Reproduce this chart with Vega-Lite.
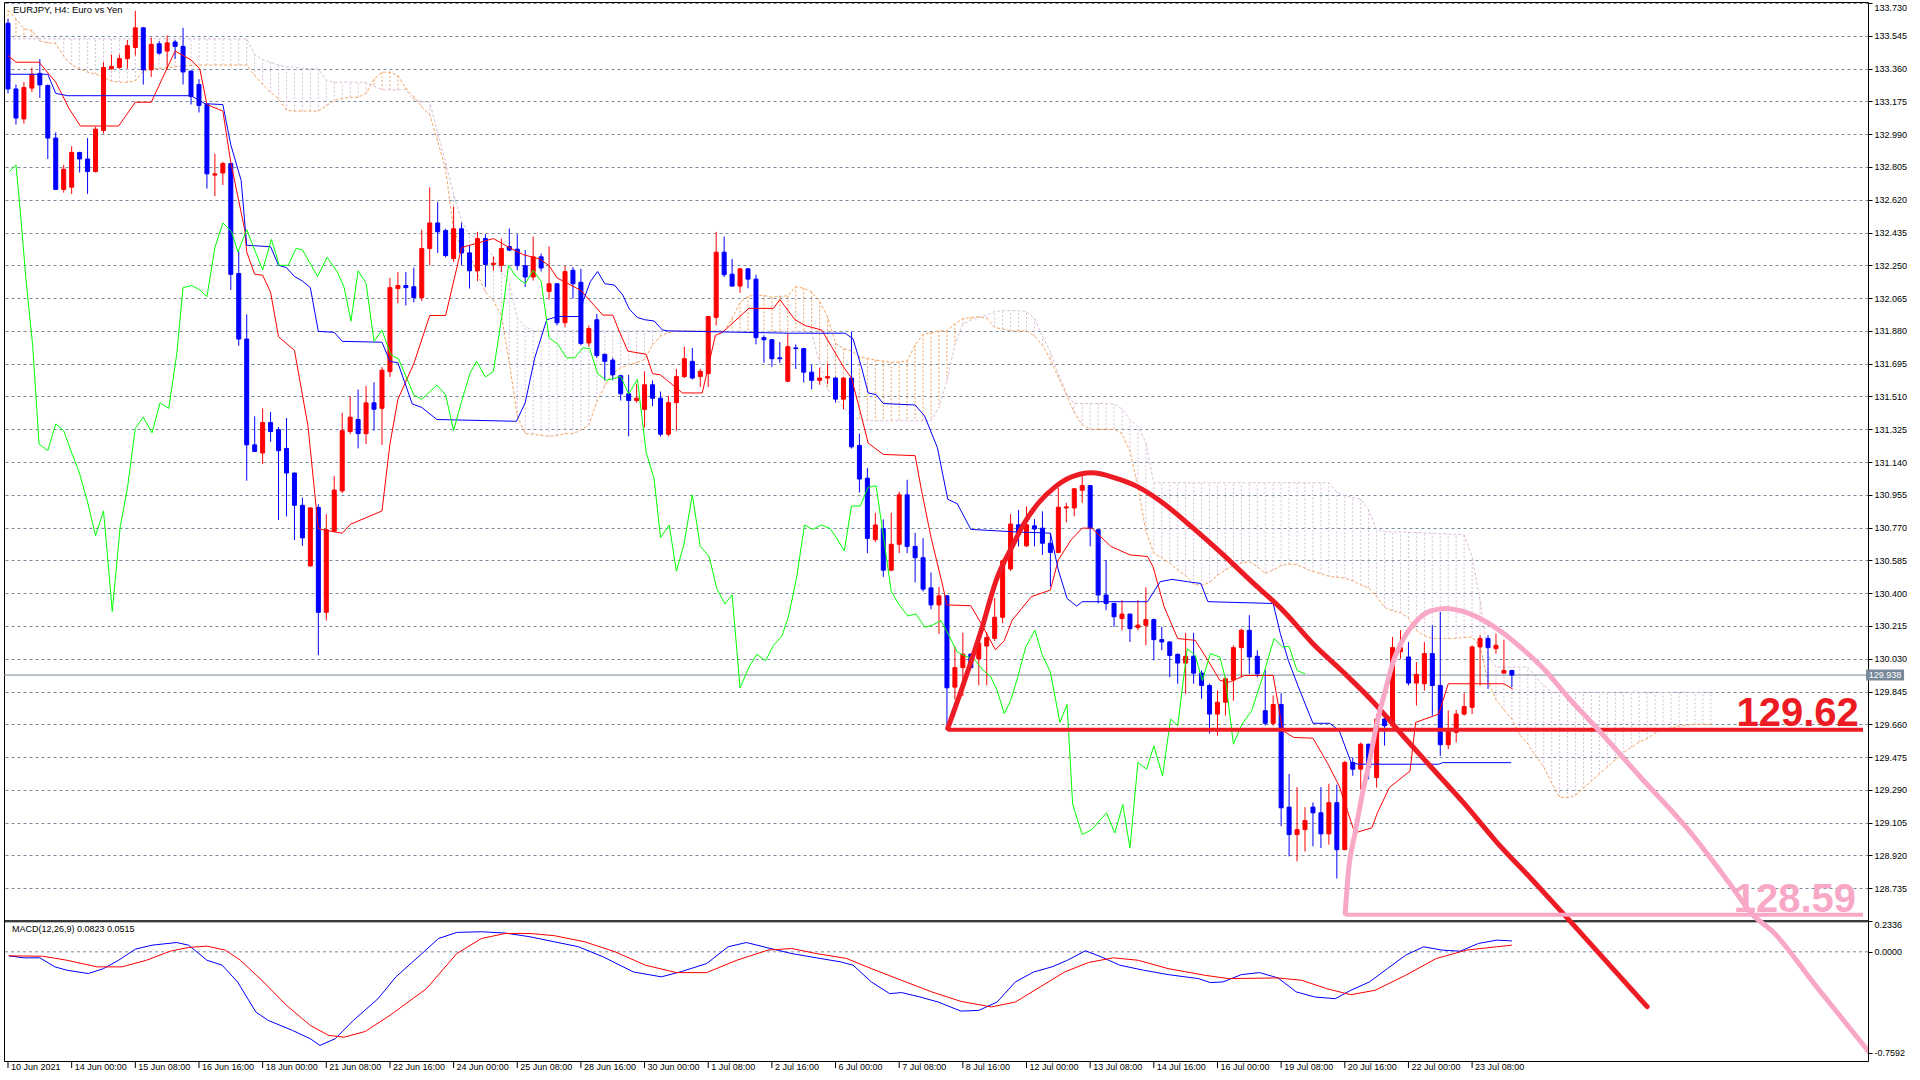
{
  "$schema": "https://vega.github.io/schema/vega-lite/v6.json",
  "width": 1864,
  "height": 1059,
  "padding": {"left": 3, "top": 2, "right": 0, "bottom": 0},
  "autosize": {"type": "pad"},
  "background": "#ffffff",
  "config": {
    "view": {"stroke": "#000000", "strokeWidth": 1},
    "axis": {"labelFont": "Liberation Sans", "labelColor": "#000000", "title": null},
    "text": {"font": "Liberation Sans"}
  },
  "datasets": {
    "candles": [
      {"i":0,"o":133.616,"h":133.64,"l":133.22,"c":133.245},
      {"i":1,"o":133.245,"h":133.27,"l":133.044,"c":133.081},
      {"i":2,"o":133.076,"h":133.283,"l":133.049,"c":133.253},
      {"i":3,"o":133.25,"h":133.366,"l":133.227,"c":133.328},
      {"i":4,"o":133.333,"h":133.414,"l":133.195,"c":133.268},
      {"i":5,"o":133.265,"h":133.27,"l":132.85,"c":132.968},
      {"i":6,"o":132.968,"h":133.0,"l":132.675,"c":132.678},
      {"i":7,"o":132.678,"h":132.817,"l":132.66,"c":132.792},
      {"i":8,"o":132.691,"h":132.922,"l":132.653,"c":132.887},
      {"i":9,"o":132.887,"h":132.89,"l":132.774,"c":132.85},
      {"i":10,"o":132.85,"h":132.968,"l":132.653,"c":132.779},
      {"i":11,"o":132.779,"h":133.031,"l":132.774,"c":133.018},
      {"i":12,"o":133.011,"h":133.396,"l":132.993,"c":133.366},
      {"i":13,"o":133.359,"h":133.439,"l":133.353,"c":133.371},
      {"i":14,"o":133.366,"h":133.439,"l":133.359,"c":133.416},
      {"i":15,"o":133.416,"h":133.522,"l":133.359,"c":133.49},
      {"i":16,"o":133.479,"h":133.686,"l":133.434,"c":133.59},
      {"i":17,"o":133.59,"h":133.595,"l":133.27,"c":133.353},
      {"i":18,"o":133.353,"h":133.535,"l":133.313,"c":133.497},
      {"i":19,"o":133.5,"h":133.515,"l":133.439,"c":133.447},
      {"i":20,"o":133.459,"h":133.547,"l":133.353,"c":133.505},
      {"i":21,"o":133.51,"h":133.522,"l":133.414,"c":133.485},
      {"i":22,"o":133.485,"h":133.59,"l":133.27,"c":133.341},
      {"i":23,"o":133.346,"h":133.35,"l":133.157,"c":133.202},
      {"i":24,"o":133.27,"h":133.3,"l":133.112,"c":133.152},
      {"i":25,"o":133.157,"h":133.16,"l":132.683,"c":132.766},
      {"i":26,"o":132.759,"h":132.88,"l":132.64,"c":132.766},
      {"i":27,"o":132.771,"h":132.834,"l":132.703,"c":132.824},
      {"i":28,"o":132.824,"h":132.83,"l":132.111,"c":132.199},
      {"i":29,"o":132.204,"h":132.33,"l":131.796,"c":131.834},
      {"i":30,"o":131.834,"h":131.973,"l":131.035,"c":131.237},
      {"i":31,"o":131.237,"h":131.398,"l":131.196,"c":131.2},
      {"i":32,"o":131.191,"h":131.443,"l":131.128,"c":131.363},
      {"i":33,"o":131.363,"h":131.423,"l":131.254,"c":131.312},
      {"i":34,"o":131.322,"h":131.337,"l":130.813,"c":131.204},
      {"i":35,"o":131.217,"h":131.388,"l":130.833,"c":131.078},
      {"i":36,"o":131.078,"h":131.08,"l":130.7,"c":130.896},
      {"i":37,"o":130.896,"h":130.939,"l":130.667,"c":130.712},
      {"i":38,"o":130.554,"h":130.885,"l":130.55,"c":130.881},
      {"i":39,"o":130.884,"h":130.902,"l":130.05,"c":130.292},
      {"i":40,"o":130.292,"h":130.846,"l":130.246,"c":130.758},
      {"i":41,"o":130.75,"h":131.06,"l":130.743,"c":130.982},
      {"i":42,"o":130.977,"h":131.418,"l":130.965,"c":131.317},
      {"i":43,"o":131.312,"h":131.511,"l":131.297,"c":131.393},
      {"i":44,"o":131.38,"h":131.549,"l":131.217,"c":131.3},
      {"i":45,"o":131.3,"h":131.569,"l":131.242,"c":131.474},
      {"i":46,"o":131.474,"h":131.59,"l":131.317,"c":131.438},
      {"i":47,"o":131.443,"h":131.675,"l":131.237,"c":131.658},
      {"i":48,"o":131.65,"h":132.179,"l":131.62,"c":132.124},
      {"i":49,"o":132.119,"h":132.212,"l":132.036,"c":132.136},
      {"i":50,"o":132.136,"h":132.212,"l":132.023,"c":132.124},
      {"i":51,"o":132.129,"h":132.237,"l":132.041,"c":132.068},
      {"i":52,"o":132.068,"h":132.451,"l":132.048,"c":132.345},
      {"i":53,"o":132.345,"h":132.69,"l":132.25,"c":132.489},
      {"i":54,"o":132.489,"h":132.608,"l":132.32,"c":132.439},
      {"i":55,"o":132.446,"h":132.456,"l":132.295,"c":132.305},
      {"i":56,"o":132.288,"h":132.582,"l":132.27,"c":132.456},
      {"i":57,"o":132.456,"h":132.489,"l":132.25,"c":132.32},
      {"i":58,"o":132.32,"h":132.363,"l":132.119,"c":132.219},
      {"i":59,"o":132.219,"h":132.439,"l":132.161,"c":132.401},
      {"i":60,"o":132.401,"h":132.426,"l":132.129,"c":132.255},
      {"i":61,"o":132.255,"h":132.3,"l":132.22,"c":132.262},
      {"i":62,"o":132.25,"h":132.401,"l":132.212,"c":132.345},
      {"i":63,"o":132.356,"h":132.458,"l":132.33,"c":132.336},
      {"i":64,"o":132.341,"h":132.425,"l":132.222,"c":132.248},
      {"i":65,"o":132.248,"h":132.336,"l":132.128,"c":132.184},
      {"i":66,"o":132.184,"h":132.412,"l":132.164,"c":132.298},
      {"i":67,"o":132.298,"h":132.316,"l":132.215,"c":132.235},
      {"i":68,"o":132.103,"h":132.356,"l":132.057,"c":132.146},
      {"i":69,"o":132.146,"h":132.15,"l":131.91,"c":131.926},
      {"i":70,"o":131.926,"h":132.248,"l":131.9,"c":132.215},
      {"i":71,"o":132.222,"h":132.24,"l":132.063,"c":132.146},
      {"i":72,"o":132.154,"h":132.23,"l":131.8,"c":131.809},
      {"i":73,"o":131.812,"h":131.91,"l":131.79,"c":131.893},
      {"i":74,"o":131.943,"h":131.976,"l":131.728,"c":131.741},
      {"i":75,"o":131.748,"h":131.75,"l":131.601,"c":131.708},
      {"i":76,"o":131.715,"h":131.728,"l":131.601,"c":131.632},
      {"i":77,"o":131.627,"h":131.632,"l":131.487,"c":131.525},
      {"i":78,"o":131.525,"h":131.632,"l":131.285,"c":131.487},
      {"i":79,"o":131.487,"h":131.58,"l":131.475,"c":131.5},
      {"i":80,"o":131.437,"h":131.652,"l":131.335,"c":131.576},
      {"i":81,"o":131.576,"h":131.6,"l":131.455,"c":131.5},
      {"i":82,"o":131.5,"h":131.538,"l":131.285,"c":131.297},
      {"i":83,"o":131.297,"h":131.513,"l":131.285,"c":131.475},
      {"i":84,"o":131.475,"h":131.665,"l":131.317,"c":131.622},
      {"i":85,"o":131.622,"h":131.791,"l":131.614,"c":131.723},
      {"i":86,"o":131.708,"h":131.784,"l":131.606,"c":131.614},
      {"i":87,"o":131.622,"h":131.665,"l":131.563,"c":131.652},
      {"i":88,"o":131.639,"h":131.965,"l":131.563,"c":131.961},
      {"i":89,"o":131.956,"h":132.438,"l":131.91,"c":132.324},
      {"i":90,"o":132.324,"h":132.412,"l":132.184,"c":132.197},
      {"i":91,"o":132.2,"h":132.286,"l":132.13,"c":132.133},
      {"i":92,"o":132.133,"h":132.235,"l":132.095,"c":132.23},
      {"i":93,"o":132.23,"h":132.235,"l":132.12,"c":132.172},
      {"i":94,"o":132.172,"h":132.197,"l":131.804,"c":131.842},
      {"i":95,"o":131.842,"h":131.855,"l":131.7,"c":131.83},
      {"i":96,"o":131.83,"h":131.835,"l":131.677,"c":131.723},
      {"i":97,"o":131.728,"h":131.817,"l":131.7,"c":131.723},
      {"i":98,"o":131.596,"h":131.867,"l":131.59,"c":131.791},
      {"i":99,"o":131.784,"h":131.804,"l":131.665,"c":131.78},
      {"i":100,"o":131.78,"h":131.785,"l":131.589,"c":131.647},
      {"i":101,"o":131.647,"h":131.69,"l":131.55,"c":131.601},
      {"i":102,"o":131.601,"h":131.672,"l":131.576,"c":131.614},
      {"i":103,"o":131.614,"h":131.697,"l":131.58,"c":131.622},
      {"i":104,"o":131.614,"h":131.62,"l":131.475,"c":131.495},
      {"i":105,"o":131.495,"h":131.62,"l":131.437,"c":131.614},
      {"i":106,"o":131.614,"h":131.875,"l":131.216,"c":131.226},
      {"i":107,"o":131.234,"h":131.3,"l":130.968,"c":131.044},
      {"i":108,"o":131.049,"h":131.107,"l":130.626,"c":130.709},
      {"i":109,"o":130.702,"h":130.854,"l":130.689,"c":130.785},
      {"i":110,"o":130.765,"h":130.816,"l":130.492,"c":130.53},
      {"i":111,"o":130.53,"h":130.854,"l":130.524,"c":130.676},
      {"i":112,"o":130.676,"h":130.973,"l":130.626,"c":130.955},
      {"i":113,"o":130.955,"h":131.04,"l":130.626,"c":130.664},
      {"i":114,"o":130.664,"h":130.74,"l":130.461,"c":130.6},
      {"i":115,"o":130.6,"h":130.71,"l":130.41,"c":130.423},
      {"i":116,"o":130.43,"h":130.517,"l":130.309,"c":130.334},
      {"i":117,"o":130.334,"h":130.436,"l":130.17,"c":130.385},
      {"i":118,"o":130.385,"h":130.39,"l":129.65,"c":129.866},
      {"i":119,"o":129.87,"h":130.1,"l":129.8,"c":129.98},
      {"i":120,"o":129.98,"h":130.177,"l":129.82,"c":130.056},
      {"i":121,"o":130.056,"h":130.06,"l":129.97,"c":129.98},
      {"i":122,"o":130.03,"h":130.157,"l":129.88,"c":130.119},
      {"i":123,"o":130.102,"h":130.18,"l":129.88,"c":130.15},
      {"i":124,"o":130.145,"h":130.372,"l":130.13,"c":130.264},
      {"i":125,"o":130.264,"h":130.59,"l":130.23,"c":130.583},
      {"i":126,"o":130.537,"h":130.846,"l":130.525,"c":130.79},
      {"i":127,"o":130.786,"h":130.87,"l":130.664,"c":130.739},
      {"i":128,"o":130.667,"h":130.89,"l":130.66,"c":130.786},
      {"i":129,"o":130.78,"h":130.818,"l":130.664,"c":130.762},
      {"i":130,"o":130.767,"h":130.862,"l":130.616,"c":130.682},
      {"i":131,"o":130.682,"h":130.739,"l":130.437,"c":130.63},
      {"i":132,"o":130.63,"h":130.994,"l":130.626,"c":130.885},
      {"i":133,"o":130.881,"h":130.91,"l":130.8,"c":130.887},
      {"i":134,"o":130.881,"h":130.994,"l":130.834,"c":130.989},
      {"i":135,"o":130.981,"h":131.06,"l":130.91,"c":131.007},
      {"i":136,"o":131.007,"h":131.01,"l":130.664,"c":130.767},
      {"i":137,"o":130.758,"h":130.76,"l":130.342,"c":130.39},
      {"i":138,"o":130.39,"h":130.588,"l":130.304,"c":130.342},
      {"i":139,"o":130.342,"h":130.346,"l":130.21,"c":130.267},
      {"i":140,"o":130.257,"h":130.361,"l":130.191,"c":130.282},
      {"i":141,"o":130.282,"h":130.285,"l":130.125,"c":130.2},
      {"i":142,"o":130.206,"h":130.361,"l":130.19,"c":130.22},
      {"i":143,"o":130.219,"h":130.433,"l":130.106,"c":130.251},
      {"i":144,"o":130.251,"h":130.257,"l":130.021,"c":130.138},
      {"i":145,"o":130.138,"h":130.21,"l":130.078,"c":130.125},
      {"i":146,"o":130.125,"h":130.128,"l":129.926,"c":130.049},
      {"i":147,"o":130.055,"h":130.06,"l":129.889,"c":130.006},
      {"i":148,"o":130.006,"h":130.176,"l":129.832,"c":130.044},
      {"i":149,"o":130.044,"h":130.176,"l":129.889,"c":129.949},
      {"i":150,"o":129.949,"h":129.964,"l":129.804,"c":129.879},
      {"i":151,"o":129.879,"h":129.889,"l":129.609,"c":129.718},
      {"i":152,"o":129.718,"h":129.851,"l":129.596,"c":129.785},
      {"i":153,"o":129.785,"h":129.926,"l":129.709,"c":129.917},
      {"i":154,"o":129.91,"h":130.106,"l":129.794,"c":130.093},
      {"i":155,"o":130.093,"h":130.2,"l":129.926,"c":130.191},
      {"i":156,"o":130.191,"h":130.276,"l":129.945,"c":130.04},
      {"i":157,"o":130.044,"h":130.078,"l":129.926,"c":129.945},
      {"i":158,"o":129.737,"h":129.968,"l":129.653,"c":129.666},
      {"i":159,"o":129.666,"h":129.823,"l":129.653,"c":129.772},
      {"i":160,"o":129.772,"h":129.836,"l":129.085,"c":129.189},
      {"i":161,"o":129.193,"h":129.38,"l":128.915,"c":129.038},
      {"i":162,"o":129.038,"h":129.306,"l":128.887,"c":129.066},
      {"i":163,"o":129.066,"h":129.193,"l":128.943,"c":129.117},
      {"i":164,"o":129.193,"h":129.219,"l":128.972,"c":129.161},
      {"i":165,"o":129.161,"h":129.306,"l":128.962,"c":129.042},
      {"i":166,"o":129.042,"h":129.325,"l":128.981,"c":129.218},
      {"i":167,"o":129.218,"h":129.32,"l":128.79,"c":128.953},
      {"i":168,"o":128.953,"h":129.454,"l":128.95,"c":129.445},
      {"i":169,"o":129.445,"h":129.473,"l":129.37,"c":129.407},
      {"i":170,"o":129.407,"h":129.558,"l":129.293,"c":129.548},
      {"i":171,"o":129.548,"h":129.55,"l":129.35,"c":129.416},
      {"i":172,"o":129.36,"h":129.718,"l":129.303,"c":129.69},
      {"i":173,"o":129.69,"h":129.728,"l":129.54,"c":129.652},
      {"i":174,"o":129.652,"h":130.153,"l":129.643,"c":130.093},
      {"i":175,"o":130.07,"h":130.191,"l":130.03,"c":130.093},
      {"i":176,"o":130.04,"h":130.125,"l":129.879,"c":129.893},
      {"i":177,"o":129.893,"h":130.011,"l":129.766,"c":129.942},
      {"i":178,"o":129.889,"h":130.125,"l":129.851,"c":130.059},
      {"i":179,"o":130.059,"h":130.219,"l":129.709,"c":129.879},
      {"i":180,"o":129.879,"h":130.295,"l":129.482,"c":129.545},
      {"i":181,"o":129.545,"h":129.738,"l":129.52,"c":129.633},
      {"i":182,"o":129.615,"h":129.741,"l":129.558,"c":129.718},
      {"i":183,"o":129.718,"h":129.836,"l":129.709,"c":129.76},
      {"i":184,"o":129.756,"h":130.106,"l":129.718,"c":130.097},
      {"i":185,"o":130.097,"h":130.163,"l":129.879,"c":130.144},
      {"i":186,"o":130.144,"h":130.163,"l":129.86,"c":130.093},
      {"i":187,"o":130.087,"h":130.172,"l":130.059,"c":130.106},
      {"i":188,"o":129.949,"h":130.138,"l":129.949,"c":129.964},
      {"i":189,"o":129.964,"h":129.966,"l":129.87,"c":129.938}
    ],
    "cloud": [
      {"i":0,"a":133.69,"b":133.528},{"i":1,"a":133.64,"b":133.528},{"i":2,"a":133.585,"b":133.528},{"i":3,"a":133.575,"b":133.528},
      {"i":4,"a":133.515,"b":133.528},{"i":5,"a":133.505,"b":133.528},{"i":6,"a":133.5,"b":133.528},{"i":7,"a":133.43,"b":133.528},
      {"i":8,"a":133.38,"b":133.528},{"i":9,"a":133.36,"b":133.528},{"i":10,"a":133.34,"b":133.528},{"i":11,"a":133.33,"b":133.528},
      {"i":12,"a":133.31,"b":133.528},{"i":13,"a":133.29,"b":133.528},{"i":14,"a":133.283,"b":133.528},{"i":15,"a":133.283,"b":133.528},
      {"i":16,"a":133.29,"b":133.528},{"i":17,"a":133.345,"b":133.528},{"i":18,"a":133.36,"b":133.528},{"i":19,"a":133.36,"b":133.528},
      {"i":20,"a":133.365,"b":133.528},{"i":21,"a":133.37,"b":133.528},{"i":22,"a":133.375,"b":133.528},{"i":23,"a":133.377,"b":133.528},
      {"i":24,"a":133.38,"b":133.528},{"i":25,"a":133.38,"b":133.528},{"i":26,"a":133.38,"b":133.528},{"i":27,"a":133.38,"b":133.528},
      {"i":28,"a":133.38,"b":133.528},{"i":29,"a":133.38,"b":133.528},{"i":30,"a":133.38,"b":133.528},{"i":31,"a":133.32,"b":133.44},
      {"i":32,"a":133.27,"b":133.41},{"i":33,"a":133.226,"b":133.396},{"i":34,"a":133.19,"b":133.38},{"i":35,"a":133.125,"b":133.37},
      {"i":36,"a":133.12,"b":133.368},{"i":37,"a":133.12,"b":133.36},{"i":38,"a":133.12,"b":133.36},{"i":39,"a":133.12,"b":133.358},
      {"i":40,"a":133.15,"b":133.293},{"i":41,"a":133.18,"b":133.283},{"i":42,"a":133.19,"b":133.283},{"i":43,"a":133.198,"b":133.283},
      {"i":44,"a":133.198,"b":133.283},{"i":45,"a":133.22,"b":133.283},{"i":46,"a":133.3,"b":133.26},{"i":47,"a":133.34,"b":133.24},
      {"i":48,"a":133.34,"b":133.24},{"i":49,"a":133.32,"b":133.24},{"i":50,"a":133.25,"b":133.24},{"i":51,"a":133.2,"b":133.18},
      {"i":52,"a":133.144,"b":133.175},{"i":53,"a":133.1,"b":133.17},{"i":54,"a":132.95,"b":133.0},{"i":55,"a":132.79,"b":132.83},
      {"i":56,"a":132.45,"b":132.65},{"i":57,"a":132.35,"b":132.5},{"i":58,"a":132.31,"b":132.42},{"i":59,"a":132.2,"b":132.4},
      {"i":60,"a":132.1,"b":132.35},{"i":61,"a":132.05,"b":132.3},{"i":62,"a":131.97,"b":132.22},{"i":63,"a":131.7,"b":132.15},
      {"i":64,"a":131.4,"b":131.95},{"i":65,"a":131.3,"b":131.905},{"i":66,"a":131.297,"b":131.88},{"i":67,"a":131.29,"b":131.88},
      {"i":68,"a":131.285,"b":131.88},{"i":69,"a":131.29,"b":131.88},{"i":70,"a":131.3,"b":131.88},{"i":71,"a":131.3,"b":131.88},
      {"i":72,"a":131.32,"b":131.88},{"i":73,"a":131.35,"b":131.88},{"i":74,"a":131.48,"b":131.88},{"i":75,"a":131.57,"b":131.88},
      {"i":76,"a":131.64,"b":131.88},{"i":77,"a":131.67,"b":131.88},{"i":78,"a":131.69,"b":131.88},{"i":79,"a":131.7,"b":131.88},
      {"i":80,"a":131.72,"b":131.88},{"i":81,"a":131.8,"b":131.88},{"i":82,"a":131.85,"b":131.88},{"i":83,"a":131.87,"b":131.88},
      {"i":84,"a":131.88,"b":131.878},{"i":85,"a":131.88,"b":131.878},{"i":86,"a":131.88,"b":131.878},{"i":87,"a":131.88,"b":131.878},
      {"i":88,"a":131.88,"b":131.878},{"i":89,"a":131.88,"b":131.878},{"i":90,"a":131.88,"b":131.878},{"i":91,"a":131.95,"b":131.878},
      {"i":92,"a":132.04,"b":131.878},{"i":93,"a":132.075,"b":131.878},{"i":94,"a":132.083,"b":131.878},{"i":95,"a":132.08,"b":131.878},
      {"i":96,"a":132.07,"b":131.878},{"i":97,"a":132.075,"b":131.878},{"i":98,"a":132.078,"b":131.878},{"i":99,"a":132.13,"b":131.878},
      {"i":100,"a":132.12,"b":131.878},{"i":101,"a":132.1,"b":131.87},{"i":102,"a":132.045,"b":131.7},{"i":103,"a":131.96,"b":131.55},
      {"i":104,"a":131.81,"b":131.5},{"i":105,"a":131.78,"b":131.45},{"i":106,"a":131.766,"b":131.4},{"i":107,"a":131.735,"b":131.38},
      {"i":108,"a":131.725,"b":131.373},{"i":109,"a":131.715,"b":131.373},{"i":110,"a":131.71,"b":131.373},{"i":111,"a":131.703,"b":131.373},
      {"i":112,"a":131.705,"b":131.373},{"i":113,"a":131.71,"b":131.373},{"i":114,"a":131.8,"b":131.373},{"i":115,"a":131.86,"b":131.373},
      {"i":116,"a":131.87,"b":131.373},{"i":117,"a":131.88,"b":131.45},{"i":118,"a":131.88,"b":131.6},{"i":119,"a":131.92,"b":131.8},
      {"i":120,"a":131.95,"b":131.92},{"i":121,"a":131.955,"b":131.94},{"i":122,"a":131.96,"b":131.956},{"i":123,"a":131.95,"b":131.97},
      {"i":124,"a":131.9,"b":131.99},{"i":125,"a":131.89,"b":131.994},{"i":126,"a":131.88,"b":131.994},{"i":127,"a":131.88,"b":131.994},
      {"i":128,"a":131.88,"b":131.99},{"i":129,"a":131.85,"b":131.95},{"i":130,"a":131.8,"b":131.85},{"i":131,"a":131.72,"b":131.76},
      {"i":132,"a":131.62,"b":131.64},{"i":133,"a":131.52,"b":131.53},{"i":134,"a":131.42,"b":131.47},{"i":135,"a":131.35,"b":131.47},
      {"i":136,"a":131.325,"b":131.47},{"i":137,"a":131.325,"b":131.47},{"i":138,"a":131.325,"b":131.47},{"i":139,"a":131.325,"b":131.467},
      {"i":140,"a":131.3,"b":131.44},{"i":141,"a":131.2,"b":131.38},{"i":142,"a":131.0,"b":131.34},{"i":143,"a":130.75,"b":131.25},
      {"i":144,"a":130.625,"b":131.023},{"i":145,"a":130.6,"b":131.023},{"i":146,"a":130.57,"b":131.023},{"i":147,"a":130.53,"b":131.023},
      {"i":148,"a":130.5,"b":131.023},{"i":149,"a":130.45,"b":131.023},{"i":150,"a":130.445,"b":131.023},{"i":151,"a":130.46,"b":131.023},
      {"i":152,"a":130.5,"b":131.023},{"i":153,"a":130.53,"b":131.023},{"i":154,"a":130.555,"b":131.023},{"i":155,"a":130.57,"b":131.023},
      {"i":156,"a":130.578,"b":131.023},{"i":157,"a":130.55,"b":131.023},{"i":158,"a":130.512,"b":131.023},{"i":159,"a":130.53,"b":131.023},
      {"i":160,"a":130.555,"b":131.023},{"i":161,"a":130.565,"b":131.023},{"i":162,"a":130.56,"b":131.023},{"i":163,"a":130.54,"b":131.023},
      {"i":164,"a":130.522,"b":131.023},{"i":165,"a":130.51,"b":131.023},{"i":166,"a":130.495,"b":131.023},{"i":167,"a":130.49,"b":130.97},
      {"i":168,"a":130.484,"b":130.95},{"i":169,"a":130.47,"b":130.94},{"i":170,"a":130.446,"b":130.93},{"i":171,"a":130.43,"b":130.87},
      {"i":172,"a":130.38,"b":130.76},{"i":173,"a":130.32,"b":130.748},{"i":174,"a":130.3,"b":130.745},{"i":175,"a":130.29,"b":130.745},
      {"i":176,"a":130.26,"b":130.745},{"i":177,"a":130.19,"b":130.742},{"i":178,"a":130.16,"b":130.74},{"i":179,"a":130.145,"b":130.738},
      {"i":180,"a":130.145,"b":130.736},{"i":181,"a":130.145,"b":130.734},{"i":182,"a":130.145,"b":130.732},{"i":183,"a":130.15,"b":130.73},
      {"i":184,"a":130.153,"b":130.607},{"i":185,"a":130.1,"b":130.36},{"i":186,"a":129.9,"b":130.05},{"i":187,"a":129.8,"b":129.983},
      {"i":188,"a":129.74,"b":129.983},{"i":189,"a":129.69,"b":129.983},{"i":190,"a":129.6,"b":129.983},{"i":191,"a":129.55,"b":129.983},
      {"i":192,"a":129.48,"b":129.93},{"i":193,"a":129.42,"b":129.88},{"i":194,"a":129.33,"b":129.841},{"i":195,"a":129.25,"b":129.841},
      {"i":196,"a":129.245,"b":129.841},{"i":197,"a":129.26,"b":129.841},{"i":198,"a":129.3,"b":129.841},{"i":199,"a":129.34,"b":129.841},
      {"i":200,"a":129.38,"b":129.841},{"i":201,"a":129.42,"b":129.841},{"i":202,"a":129.46,"b":129.841},{"i":203,"a":129.5,"b":129.841},
      {"i":204,"a":129.53,"b":129.841},{"i":205,"a":129.56,"b":129.841},{"i":206,"a":129.58,"b":129.841},{"i":207,"a":129.61,"b":129.841},
      {"i":208,"a":129.63,"b":129.841},{"i":209,"a":129.64,"b":129.841},{"i":210,"a":129.65,"b":129.841},{"i":211,"a":129.655,"b":129.841},
      {"i":212,"a":129.66,"b":129.841},{"i":213,"a":129.66,"b":129.841},{"i":214,"a":129.66,"b":129.841}
    ],
    "tenkan": [
      {"i":0,"v":133.434},{"i":1,"v":133.396},{"i":3.9,"v":133.396},{"i":6,"v":133.283},{"i":7.7,"v":133.132},{"i":9.1,"v":133.036},
      {"i":13.9,"v":133.036},{"i":16,"v":133.17},{"i":18,"v":133.17},{"i":21,"v":133.459},{"i":23,"v":133.409},{"i":24.1,"v":133.359},
      {"i":25,"v":133.157},{"i":27,"v":133.12},{"i":28,"v":132.83},{"i":29.75,"v":132.451},{"i":30,"v":132.325},{"i":31,"v":132.199},
      {"i":32,"v":132.194},{"i":33,"v":132.098},{"i":34,"v":131.847},{"i":36,"v":131.77},{"i":37.7,"v":131.343},{"i":39,"v":130.763},
      {"i":42,"v":130.738},{"i":43,"v":130.788},{"i":47,"v":130.864},{"i":48,"v":131.242},{"i":49,"v":131.494},{"i":51,"v":131.695},
      {"i":53,"v":131.967},{"i":55,"v":131.967},{"i":57,"v":132.35},{"i":61,"v":132.401},{"i":63,"v":132.35},{"i":64.75,"v":132.31},
      {"i":66.8,"v":132.286},{"i":68,"v":132.248},{"i":69,"v":132.179},{"i":72,"v":132.108},{"i":74.75,"v":131.969},{"i":76,"v":131.969},
      {"i":76.8,"v":131.88},{"i":77.9,"v":131.766},{"i":80.2,"v":131.748},{"i":81,"v":131.639},{"i":82,"v":131.632},{"i":84.75,"v":131.53},
      {"i":87.25,"v":131.53},{"i":88.9,"v":131.855},{"i":89.75,"v":131.87},{"i":93.1,"v":132.007},{"i":96.2,"v":132.007},{"i":97,"v":132.057},
      {"i":98.9,"v":131.943},{"i":100.2,"v":131.91},{"i":102.25,"v":131.885},{"i":103.5,"v":131.791},{"i":105,"v":131.677},{"i":106,"v":131.614},
      {"i":107.25,"v":131.399},{"i":108.1,"v":131.247},{"i":110,"v":131.183},{"i":114,"v":131.176},{"i":114.75,"v":130.993},{"i":116,"v":130.715},
      {"i":117.5,"v":130.436},{"i":118,"v":130.334},{"i":121,"v":130.329},{"i":122.25,"v":130.233},{"i":124.1,"v":130.081},{"i":125.2,"v":130.132},
      {"i":126.2,"v":130.248},{"i":128.6,"v":130.38},{"i":131,"v":130.418},{"i":132,"v":130.588},{"i":133.6,"v":130.701},{"i":135,"v":130.767},
      {"i":136.2,"v":130.767},{"i":138.6,"v":130.664},{"i":141,"v":130.616},{"i":143.2,"v":130.607},{"i":143.9,"v":130.55},{"i":145.3,"v":130.323},
      {"i":147,"v":130.144},{"i":149.2,"v":130.134},{"i":150.8,"v":130.021},{"i":152.3,"v":129.908},{"i":153.5,"v":129.898},{"i":155.4,"v":129.936},
      {"i":159,"v":129.936},{"i":160.2,"v":129.624},{"i":161.6,"v":129.586},{"i":164,"v":129.582},{"i":165.9,"v":129.435},{"i":167.3,"v":129.312},
      {"i":169.25,"v":129.047},{"i":171.4,"v":129.076},{"i":172.1,"v":129.161},{"i":173.6,"v":129.303},{"i":176.2,"v":129.397},{"i":176.9,"v":129.671},
      {"i":179.8,"v":129.718},{"i":181,"v":129.889},{"i":188,"v":129.889},{"i":189.1,"v":129.86}
    ],
    "kijun": [
      {"i":0,"v":133.328},{"i":5,"v":133.328},{"i":6,"v":133.22},{"i":7.5,"v":133.207},{"i":23,"v":133.207},{"i":24.75,"v":133.162},
      {"i":27,"v":133.157},{"i":28,"v":132.93},{"i":29.3,"v":132.729},{"i":30,"v":132.363},{"i":33,"v":132.355},{"i":34,"v":132.25},
      {"i":35,"v":132.237},{"i":36,"v":132.187},{"i":37,"v":132.161},{"i":38,"v":132.124},{"i":39,"v":131.877},{"i":41,"v":131.872},
      {"i":42,"v":131.821},{"i":47,"v":131.816},{"i":48,"v":131.708},{"i":49,"v":131.7},{"i":50.8,"v":131.468},{"i":52,"v":131.448},
      {"i":53.9,"v":131.38},{"i":63.9,"v":131.37},{"i":65,"v":131.475},{"i":66.2,"v":131.728},{"i":67.7,"v":131.943},{"i":69.1,"v":131.961},
      {"i":72,"v":131.961},{"i":72.25,"v":132.045},{"i":73.2,"v":132.159},{"i":74.1,"v":132.215},{"i":75,"v":132.146},{"i":76.2,"v":132.139},
      {"i":77.25,"v":132.083},{"i":78.1,"v":132.002},{"i":79.1,"v":131.956},{"i":80,"v":131.943},{"i":81.2,"v":131.936},{"i":82.25,"v":131.885},
      {"i":82.9,"v":131.88},{"i":98.1,"v":131.867},{"i":105.2,"v":131.867},{"i":106.2,"v":131.835},{"i":107.25,"v":131.677},{"i":108.1,"v":131.53},
      {"i":109.1,"v":131.52},{"i":110,"v":131.47},{"i":114,"v":131.462},{"i":115.2,"v":131.399},{"i":116.8,"v":131.221},{"i":118.1,"v":130.93},
      {"i":119.3,"v":130.905},{"i":121,"v":130.76},{"i":127,"v":130.745},{"i":131,"v":130.739},{"i":132,"v":130.531},{"i":133.1,"v":130.37},
      {"i":134.3,"v":130.327},{"i":135,"v":130.352},{"i":143.2,"v":130.352},{"i":144.8,"v":130.465},{"i":146.3,"v":130.478},{"i":148.2,"v":130.465},
      {"i":149.9,"v":130.455},{"i":150.8,"v":130.352},{"i":159,"v":130.342},{"i":159.9,"v":130.172},{"i":160.9,"v":130.021},{"i":162.1,"v":129.879},
      {"i":164,"v":129.666},{"i":166.1,"v":129.666},{"i":167.3,"v":129.624},{"i":168.8,"v":129.444},{"i":169.7,"v":129.435},{"i":179.8,"v":129.435},
      {"i":180.3,"v":129.444},{"i":188.9,"v":129.444}
    ],
    "chikou": [
      {"i":0.2,"v":132.779},{"i":1,"v":132.817},{"i":1.6,"v":132.527},{"i":2.25,"v":132.174},{"i":3.1,"v":131.796},{"i":3.9,"v":131.242},
      {"i":5,"v":131.204},{"i":6,"v":131.355},{"i":7,"v":131.317},{"i":8,"v":131.191},{"i":8.9,"v":131.09},{"i":10,"v":130.914},
      {"i":11,"v":130.725},{"i":12,"v":130.864},{"i":12.5,"v":130.612},{"i":13.1,"v":130.297},{"i":14.1,"v":130.775},{"i":15,"v":130.99},
      {"i":16,"v":131.33},{"i":17,"v":131.393},{"i":18.1,"v":131.305},{"i":19.1,"v":131.474},{"i":20.2,"v":131.443},{"i":21.2,"v":131.746},
      {"i":22,"v":132.124},{"i":23.1,"v":132.136},{"i":24.1,"v":132.111},{"i":25,"v":132.073},{"i":26,"v":132.35},{"i":27,"v":132.489},
      {"i":28.1,"v":132.439},{"i":28.9,"v":132.325},{"i":30,"v":132.451},{"i":31.1,"v":132.325},{"i":32,"v":132.224},{"i":33.1,"v":132.396},
      {"i":34.1,"v":132.25},{"i":35.2,"v":132.25},{"i":36.2,"v":132.345},{"i":37,"v":132.338},{"i":38.9,"v":132.187},{"i":40.1,"v":132.295},
      {"i":41.4,"v":132.212},{"i":42.25,"v":132.124},{"i":43.1,"v":131.935},{"i":44,"v":132.219},{"i":45,"v":132.149},{"i":46,"v":131.821},
      {"i":47,"v":131.884},{"i":48.1,"v":131.746},{"i":49.1,"v":131.72},{"i":51,"v":131.519},{"i":52,"v":131.494},{"i":53.9,"v":131.574},
      {"i":55,"v":131.519},{"i":56,"v":131.317},{"i":57,"v":131.481},{"i":58.1,"v":131.645},{"i":58.9,"v":131.708},{"i":60,"v":131.62},
      {"i":61,"v":131.65},{"i":62.25,"v":132.02},{"i":62.9,"v":132.248},{"i":63.9,"v":132.184},{"i":65,"v":132.146},{"i":66,"v":132.222},
      {"i":67,"v":132.159},{"i":68,"v":131.842},{"i":69.1,"v":131.804},{"i":70.2,"v":131.728},{"i":71.2,"v":131.728},{"i":72.25,"v":131.784},
      {"i":73.1,"v":131.78},{"i":74.1,"v":131.639},{"i":75.2,"v":131.601},{"i":77,"v":131.622},{"i":78,"v":131.525},{"i":79.1,"v":131.606},
      {"i":80.2,"v":131.196},{"i":81.2,"v":131.044},{"i":82,"v":130.714},{"i":83.1,"v":130.785},{"i":84,"v":130.524},{"i":84.95,"v":130.676},
      {"i":86,"v":130.955},{"i":87,"v":130.664},{"i":88.1,"v":130.608},{"i":89.1,"v":130.423},{"i":90.1,"v":130.339},{"i":91,"v":130.39},
      {"i":92,"v":129.866},{"i":93.1,"v":129.98},{"i":94.1,"v":130.056},{"i":95.2,"v":130.018},{"i":96.2,"v":130.106},{"i":97.25,"v":130.157},
      {"i":98.1,"v":130.271},{"i":99.1,"v":130.486},{"i":100.1,"v":130.785},{"i":101.1,"v":130.76},{"i":102.25,"v":130.785},{"i":103.3,"v":130.765},
      {"i":104.1,"v":130.714},{"i":105.1,"v":130.638},{"i":106,"v":130.892},{"i":107.1,"v":130.892},{"i":108.1,"v":130.998},{"i":109.1,"v":131.006},
      {"i":110.2,"v":130.664},{"i":111,"v":130.41},{"i":112,"v":130.334},{"i":113.1,"v":130.271},{"i":114.1,"v":130.284},{"i":115.2,"v":130.208},
      {"i":116.2,"v":130.22},{"i":117.25,"v":130.246},{"i":118.3,"v":130.157},{"i":119.3,"v":130.068},{"i":120.4,"v":130.043},{"i":121.4,"v":130.03},
      {"i":122.5,"v":129.967},{"i":123.5,"v":129.929},{"i":124.3,"v":129.853},{"i":125.2,"v":129.721},{"i":126,"v":129.794},{"i":126.9,"v":129.926},
      {"i":127.9,"v":130.096},{"i":129.05,"v":130.191},{"i":130,"v":130.049},{"i":131,"v":129.955},{"i":132.2,"v":129.671},{"i":133.1,"v":129.771},
      {"i":133.8,"v":129.208},{"i":135,"v":129.038},{"i":136.2,"v":129.066},{"i":138.05,"v":129.161},{"i":139.1,"v":129.047},{"i":140.1,"v":129.208},
      {"i":141,"v":128.962},{"i":142,"v":129.444},{"i":143.1,"v":129.407},{"i":144,"v":129.539},{"i":145.1,"v":129.369},{"i":146.1,"v":129.69},
      {"i":147,"v":129.652},{"i":148.2,"v":130.087},{"i":149.2,"v":130.049},{"i":150.1,"v":129.907},{"i":151.1,"v":130.059},{"i":152.3,"v":130.04},
      {"i":153,"v":129.917},{"i":154,"v":129.548},{"i":155.1,"v":129.662},{"i":156.3,"v":129.737},{"i":157.8,"v":129.945},{"i":159.1,"v":130.144},
      {"i":160.2,"v":130.096},{"i":161,"v":130.1},{"i":162,"v":129.964},{"i":163,"v":129.945}
    ],
    "macd": [
      {"i":0.1,"v":-0.03},{"i":2,"v":-0.045},{"i":4,"v":-0.045},{"i":5.9,"v":-0.113},{"i":7.4,"v":-0.138},{"i":10.1,"v":-0.163},
      {"i":12,"v":-0.126},{"i":13.9,"v":-0.063},{"i":16,"v":0.02},{"i":18.1,"v":0.05},{"i":21.2,"v":0.07},{"i":22.7,"v":0.05},
      {"i":25,"v":-0.063},{"i":26.9,"v":-0.1},{"i":28.85,"v":-0.226},{"i":31.15,"v":-0.452},{"i":32.7,"v":-0.515},{"i":35.75,"v":-0.59},
      {"i":38,"v":-0.653},{"i":39.2,"v":-0.703},{"i":41.1,"v":-0.653},{"i":43.4,"v":-0.515},{"i":46.5,"v":-0.352},{"i":48.75,"v":-0.188},
      {"i":51.8,"v":-0.025},{"i":54.1,"v":0.1},{"i":56.4,"v":0.146},{"i":59.5,"v":0.151},{"i":62.5,"v":0.141},{"i":65.6,"v":0.113},
      {"i":68.7,"v":0.075},{"i":71.7,"v":0.038},{"i":74.8,"v":-0.038},{"i":78.6,"v":-0.151},{"i":82.1,"v":-0.188},{"i":84.75,"v":-0.146},
      {"i":87.8,"v":-0.088},{"i":90.5,"v":0.038},{"i":92.8,"v":0.07},{"i":95.5,"v":0.03},{"i":98.5,"v":-0.013},{"i":101.6,"v":-0.045},
      {"i":104.6,"v":-0.075},{"i":106.2,"v":-0.1},{"i":108.5,"v":-0.226},{"i":110.8,"v":-0.314},{"i":112.3,"v":-0.306},{"i":114.6,"v":-0.339},
      {"i":116.9,"v":-0.377},{"i":119.75,"v":-0.445},{"i":122,"v":-0.44},{"i":124.3,"v":-0.377},{"i":126.6,"v":-0.226},{"i":128.9,"v":-0.151},
      {"i":131.2,"v":-0.113},{"i":133.15,"v":-0.063},{"i":135.4,"v":0.008},{"i":137.4,"v":-0.038},{"i":139.7,"v":-0.1},{"i":142.7,"v":-0.138},
      {"i":145.8,"v":-0.171},{"i":149.6,"v":-0.201},{"i":151.1,"v":-0.231},{"i":152.7,"v":-0.226},{"i":155,"v":-0.171},{"i":157.3,"v":-0.156},
      {"i":159.6,"v":-0.196},{"i":161.9,"v":-0.301},{"i":164.2,"v":-0.339},{"i":166.8,"v":-0.352},{"i":168.75,"v":-0.289},{"i":171.1,"v":-0.226},
      {"i":173.35,"v":-0.126},{"i":175.65,"v":-0.025},{"i":177.9,"v":0.038},{"i":180.2,"v":0.013},{"i":182.5,"v":0.005},{"i":184.8,"v":0.063},
      {"i":187.1,"v":0.088},{"i":189,"v":0.082}
    ],
    "signal": [
      {"i":0.1,"v":-0.03},{"i":4.35,"v":-0.033},{"i":7.4,"v":-0.063},{"i":11.2,"v":-0.113},{"i":14.3,"v":-0.113},{"i":17.4,"v":-0.063},
      {"i":20.4,"v":0.005},{"i":22.7,"v":0.033},{"i":25,"v":0.043},{"i":27.3,"v":0.013},{"i":29.2,"v":-0.063},{"i":31.9,"v":-0.214},
      {"i":35,"v":-0.402},{"i":38,"v":-0.553},{"i":40.3,"v":-0.628},{"i":42.25,"v":-0.641},{"i":44.9,"v":-0.598},{"i":48,"v":-0.477},
      {"i":52.6,"v":-0.276},{"i":56.4,"v":-0.013},{"i":59.5,"v":0.1},{"i":62.5,"v":0.138},{"i":65.6,"v":0.138},{"i":68.7,"v":0.121},
      {"i":72.5,"v":0.075},{"i":76.3,"v":0.0},{"i":80.1,"v":-0.1},{"i":84,"v":-0.156},{"i":87.8,"v":-0.156},{"i":91.6,"v":-0.063},
      {"i":95.5,"v":0.013},{"i":98.5,"v":0.025},{"i":101.6,"v":-0.013},{"i":105.4,"v":-0.05},{"i":108.5,"v":-0.126},{"i":112.3,"v":-0.214},
      {"i":116.1,"v":-0.301},{"i":119.75,"v":-0.372},{"i":123.6,"v":-0.414},{"i":126.6,"v":-0.377},{"i":129.7,"v":-0.264},{"i":132.8,"v":-0.151},
      {"i":135.8,"v":-0.08},{"i":138.9,"v":-0.045},{"i":142,"v":-0.063},{"i":145.8,"v":-0.126},{"i":150.4,"v":-0.176},{"i":153.4,"v":-0.201},
      {"i":159.6,"v":-0.196},{"i":162.6,"v":-0.214},{"i":165.7,"v":-0.276},{"i":168.75,"v":-0.322},{"i":171.8,"v":-0.289},{"i":175.65,"v":-0.176},
      {"i":179.5,"v":-0.05},{"i":183.3,"v":0.013},{"i":187.1,"v":0.038},{"i":189,"v":0.05}
    ],
    "redarc": [
      {"i":118.1,"v":129.637},{"i":120.2,"v":129.904},{"i":122.25,"v":130.182},{"i":124.3,"v":130.486},{"i":126.2,"v":130.664},
      {"i":127.6,"v":130.786},{"i":129.5,"v":130.909},{"i":131.45,"v":130.994},{"i":133.4,"v":131.051},{"i":136.2,"v":131.079},
      {"i":139.1,"v":131.051},{"i":142,"v":131.0},{"i":144.85,"v":130.919},{"i":148.7,"v":130.777},{"i":152.5,"v":130.626},
      {"i":156.3,"v":130.465},{"i":160.2,"v":130.304},{"i":164,"v":130.115},{"i":167.8,"v":129.955},{"i":171.6,"v":129.785},
      {"i":175.5,"v":129.586},{"i":179.3,"v":129.397},{"i":183.1,"v":129.208},{"i":187,"v":129.0},{"i":191.75,"v":128.773},
      {"i":196,"v":128.565},{"i":206,"v":128.067}
    ],
    "pinkarc": [
      {"i":168.05,"v":128.594},{"i":168.5,"v":128.849},{"i":169.25,"v":129.038},{"i":170.2,"v":129.265},{"i":171.2,"v":129.473},
      {"i":172.1,"v":129.681},{"i":173.1,"v":129.851},{"i":174,"v":130.002},{"i":175.5,"v":130.153},{"i":176.9,"v":130.238},
      {"i":178.8,"v":130.3},{"i":180.7,"v":130.314},{"i":182.6,"v":130.3},{"i":185,"v":130.257},{"i":187.4,"v":130.191},
      {"i":190.3,"v":130.087},{"i":193.2,"v":129.964},{"i":196.05,"v":129.813},{"i":199.4,"v":129.652},{"i":205,"v":129.37},
      {"i":211,"v":129.074},{"i":216.2,"v":128.772},{"i":219.3,"v":128.584},{"i":221.8,"v":128.49},{"i":227.1,"v":128.19},
      {"i":233.9,"v":127.81}
    ],
    "xlabels": [
      {"i":0,"t":"10 Jun 2021"},{"i":8,"t":"14 Jun 00:00"},{"i":16,"t":"15 Jun 08:00"},{"i":24,"t":"16 Jun 16:00"},
      {"i":32,"t":"18 Jun 00:00"},{"i":40,"t":"21 Jun 08:00"},{"i":48,"t":"22 Jun 16:00"},{"i":56,"t":"24 Jun 00:00"},
      {"i":64,"t":"25 Jun 08:00"},{"i":72,"t":"28 Jun 16:00"},{"i":80,"t":"30 Jun 00:00"},{"i":88,"t":"1 Jul 08:00"},
      {"i":96,"t":"2 Jul 16:00"},{"i":104,"t":"6 Jul 00:00"},{"i":112,"t":"7 Jul 08:00"},{"i":120,"t":"8 Jul 16:00"},
      {"i":128,"t":"12 Jul 00:00"},{"i":136,"t":"13 Jul 08:00"},{"i":144,"t":"14 Jul 16:00"},{"i":152,"t":"16 Jul 00:00"},
      {"i":160,"t":"19 Jul 08:00"},{"i":168,"t":"20 Jul 16:00"},{"i":176,"t":"22 Jul 00:00"},{"i":184,"t":"23 Jul 08:00"}
    ]
  },
  "resolve": {"scale": {"y": "independent"}},
  "layer": [
    {
      "data": {"name": "cloud"},
      "mark": {"type": "rule", "strokeWidth": 1, "strokeDash": [2, 2], "clip": true},
      "encoding": {
        "x": {
          "field": "i", "type": "quantitative",
          "scale": {"domain": [0.125, 233.125], "nice": false, "zero": false},
          "axis": {
            "values": [0,4,8,12,16,20,24,28,32,36,40,44,48,52,56,60,64,68,72,76,80,84,88,92,96,100,104,108,112,116,120,124,128,132,136,140,144,148,152,156,160,164,168,172,176,180,184,188,192,196,200,204,208,212,216,220,224,228,232],
            "grid": true, "gridColor": "#778899", "gridDash": [3, 3], "gridWidth": 1,
            "ticks": false, "labels": false, "domain": false, "title": null
          }
        },
        "y": {
          "field": "a", "type": "quantitative",
          "scale": {"domain": [127.7605, 133.7357], "nice": false, "zero": false},
          "axis": {
            "orient": "right",
            "values": [128.735,128.92,129.105,129.29,129.475,129.66,129.845,130.03,130.215,130.4,130.585,130.77,130.955,131.14,131.325,131.51,131.695,131.88,132.065,132.25,132.435,132.62,132.805,132.99,133.175,133.36,133.545,133.73],
            "format": ".3f", "grid": true, "gridColor": "#778899", "gridDash": [3, 3], "gridWidth": 1,
            "tickSize": 4, "tickColor": "#000000", "domain": false, "labelPadding": 2,
            "labelFontSize": 9, "labelFlush": 3, "labelOverlap": false, "title": null
          }
        },
        "y2": {"field": "b"},
        "color": {"condition": {"test": "datum.a >= datum.b", "value": "#f4a460"}, "value": "#d8bfd8"}
      }
    },
    {
      "data": {"name": "cloud"},
      "mark": {"type": "line", "color": "#f4a460", "strokeWidth": 1, "strokeDash": [3, 2], "clip": true},
      "encoding": {
        "x": {"field": "i", "type": "quantitative", "scale": {"domain": [0.125, 233.125], "nice": false, "zero": false}, "axis": null},
        "y": {"field": "a", "type": "quantitative", "scale": {"domain": [127.7605, 133.7357], "nice": false, "zero": false}, "axis": null}
      }
    },
    {
      "data": {"name": "cloud"},
      "mark": {"type": "line", "color": "#d8bfd8", "strokeWidth": 1, "strokeDash": [3, 2], "clip": true},
      "encoding": {
        "x": {"field": "i", "type": "quantitative", "scale": {"domain": [0.125, 233.125], "nice": false, "zero": false}, "axis": null},
        "y": {"field": "b", "type": "quantitative", "scale": {"domain": [127.7605, 133.7357], "nice": false, "zero": false}, "axis": null}
      }
    },
    {
      "data": {"values": [{}]},
      "mark": {"type": "rule", "color": "#778899", "strokeWidth": 1},
      "encoding": {
        "y": {"datum": 129.938, "type": "quantitative", "scale": {"domain": [127.7605, 133.7357], "nice": false, "zero": false}, "axis": null}
      }
    },
    {
      "data": {"name": "candles"},
      "mark": {"type": "rule", "strokeWidth": 1, "clip": true},
      "encoding": {
        "x": {"field": "i", "type": "quantitative", "scale": {"domain": [0.125, 233.125], "nice": false, "zero": false}, "axis": null},
        "y": {"field": "l", "type": "quantitative", "scale": {"domain": [127.7605, 133.7357], "nice": false, "zero": false}, "axis": null},
        "y2": {"field": "h"},
        "color": {"condition": {"test": "datum.c >= datum.o", "value": "#ff0000"}, "value": "#0000ff"}
      }
    },
    {
      "data": {"name": "candles"},
      "mark": {"type": "bar", "width": 4, "strokeWidth": 1, "clip": true},
      "encoding": {
        "x": {"field": "i", "type": "quantitative", "scale": {"domain": [0.125, 233.125], "nice": false, "zero": false}, "axis": null},
        "y": {"field": "o", "type": "quantitative", "scale": {"domain": [127.7605, 133.7357], "nice": false, "zero": false}, "axis": null},
        "y2": {"field": "c"},
        "fill": {"condition": {"test": "datum.c >= datum.o", "value": "#ff0000"}, "value": "#0000ff"},
        "stroke": {"condition": {"test": "datum.c >= datum.o", "value": "#ff0000"}, "value": "#0000ff"}
      }
    },
    {
      "data": {"name": "tenkan"},
      "mark": {"type": "line", "color": "#ff0000", "strokeWidth": 1, "clip": true},
      "encoding": {
        "x": {"field": "i", "type": "quantitative", "scale": {"domain": [0.125, 233.125], "nice": false, "zero": false}, "axis": null},
        "y": {"field": "v", "type": "quantitative", "scale": {"domain": [127.7605, 133.7357], "nice": false, "zero": false}, "axis": null}
      }
    },
    {
      "data": {"name": "kijun"},
      "mark": {"type": "line", "color": "#0000ff", "strokeWidth": 1, "clip": true},
      "encoding": {
        "x": {"field": "i", "type": "quantitative", "scale": {"domain": [0.125, 233.125], "nice": false, "zero": false}, "axis": null},
        "y": {"field": "v", "type": "quantitative", "scale": {"domain": [127.7605, 133.7357], "nice": false, "zero": false}, "axis": null}
      }
    },
    {
      "data": {"name": "chikou"},
      "mark": {"type": "line", "color": "#00ff00", "strokeWidth": 1, "clip": true},
      "encoding": {
        "x": {"field": "i", "type": "quantitative", "scale": {"domain": [0.125, 233.125], "nice": false, "zero": false}, "axis": null},
        "y": {"field": "v", "type": "quantitative", "scale": {"domain": [127.7605, 133.7357], "nice": false, "zero": false}, "axis": null}
      }
    },
    {
      "data": {"values": [{}]},
      "mark": {"type": "rule", "color": "#000000", "strokeWidth": 1},
      "encoding": {
        "y": {"datum": 128.546, "type": "quantitative", "scale": {"domain": [127.7605, 133.7357], "nice": false, "zero": false}, "axis": null}
      }
    },
    {
      "data": {"values": [{}]},
      "mark": {"type": "rule", "color": "#778899", "strokeWidth": 1, "strokeDash": [3, 3]},
      "encoding": {
        "y": {
          "datum": 0, "type": "quantitative",
          "scale": {"domain": [-0.82, 7.135], "nice": false, "zero": false},
          "axis": {
            "orient": "right", "values": [0.2336, 0, -0.7592], "grid": false,
            "labelExpr": "replace(format(datum.value, '.4f'), '\u2212', '-')",
            "labelBaseline": {"condition": {"test": "datum.value > 0.2", "value": "top"}, "value": "middle"},
            "tickSize": 4, "tickColor": "#000000", "domain": false, "labelPadding": 2,
            "labelFontSize": 9, "labelOverlap": false, "title": null
          }
        }
      }
    },
    {
      "data": {"values": [{}]},
      "mark": {"type": "rule", "color": "#000000", "strokeWidth": 1},
      "encoding": {
        "y": {"datum": 0.2336, "type": "quantitative", "scale": {"domain": [-0.82, 7.135], "nice": false, "zero": false}, "axis": null}
      }
    },
    {
      "data": {"name": "macd"},
      "mark": {"type": "line", "color": "#0000ff", "strokeWidth": 1, "clip": true},
      "encoding": {
        "x": {"field": "i", "type": "quantitative", "scale": {"domain": [0.125, 233.125], "nice": false, "zero": false}, "axis": null},
        "y": {"field": "v", "type": "quantitative", "scale": {"domain": [-0.82, 7.135], "nice": false, "zero": false}, "axis": null}
      }
    },
    {
      "data": {"name": "signal"},
      "mark": {"type": "line", "color": "#ff0000", "strokeWidth": 1, "clip": true},
      "encoding": {
        "x": {"field": "i", "type": "quantitative", "scale": {"domain": [0.125, 233.125], "nice": false, "zero": false}, "axis": null},
        "y": {"field": "v", "type": "quantitative", "scale": {"domain": [-0.82, 7.135], "nice": false, "zero": false}, "axis": null}
      }
    },
    {
      "data": {"name": "xlabels"},
      "mark": {"type": "rule", "color": "#000000", "strokeWidth": 1, "clip": false},
      "encoding": {
        "x": {"field": "i", "type": "quantitative", "scale": {"domain": [0.125, 233.125], "nice": false, "zero": false}, "axis": null},
        "y": {"datum": -0.82, "type": "quantitative", "scale": {"domain": [-0.82, 7.135], "nice": false, "zero": false}, "axis": null},
        "y2": {"datum": -0.873}
      }
    },
    {
      "data": {"name": "xlabels"},
      "mark": {"type": "text", "align": "left", "baseline": "top", "dx": 3, "dy": 2, "fontSize": 9, "color": "#000000", "clip": false},
      "encoding": {
        "x": {"field": "i", "type": "quantitative", "scale": {"domain": [0.125, 233.125], "nice": false, "zero": false}, "axis": null},
        "y": {"datum": -0.82, "type": "quantitative", "scale": {"domain": [-0.82, 7.135], "nice": false, "zero": false}, "axis": null},
        "text": {"field": "t"}
      }
    },
    {
      "data": {"values": [{"i": 0.5, "v": 0.17, "t": "MACD(12,26,9) 0.0823 0.0515"}]},
      "mark": {"type": "text", "align": "left", "baseline": "middle", "fontSize": 9, "color": "#000000"},
      "encoding": {
        "x": {"field": "i", "type": "quantitative", "scale": {"domain": [0.125, 233.125], "nice": false, "zero": false}, "axis": null},
        "y": {"field": "v", "type": "quantitative", "scale": {"domain": [-0.82, 7.135], "nice": false, "zero": false}, "axis": null},
        "text": {"field": "t"}
      }
    },
    {
      "data": {"values": [{"i": 0.625, "v": 133.69, "t": "EURJPY, H4: Euro vs Yen"}]},
      "mark": {"type": "text", "align": "left", "baseline": "middle", "fontSize": 9.5, "color": "#000000"},
      "encoding": {
        "x": {"field": "i", "type": "quantitative", "scale": {"domain": [0.125, 233.125], "nice": false, "zero": false}, "axis": null},
        "y": {"field": "v", "type": "quantitative", "scale": {"domain": [127.7605, 133.7357], "nice": false, "zero": false}, "axis": null},
        "text": {"field": "t"}
      }
    },
    {
      "data": {"values": [{"i": 118.1, "i2": 233.125, "v": 129.63}]},
      "mark": {"type": "rule", "color": "#ed1c24", "strokeWidth": 4, "clip": true},
      "encoding": {
        "x": {"field": "i", "type": "quantitative", "scale": {"domain": [0.125, 233.125], "nice": false, "zero": false}, "axis": null},
        "x2": {"field": "i2"},
        "y": {"field": "v", "type": "quantitative", "scale": {"domain": [127.7605, 133.7357], "nice": false, "zero": false}, "axis": null}
      }
    },
    {
      "data": {"name": "redarc"},
      "mark": {"type": "line", "color": "#ed1c24", "strokeWidth": 5, "strokeCap": "round", "strokeJoin": "round", "interpolate": "monotone", "clip": true},
      "encoding": {
        "x": {"field": "i", "type": "quantitative", "scale": {"domain": [0.125, 233.125], "nice": false, "zero": false}, "axis": null},
        "y": {"field": "v", "type": "quantitative", "scale": {"domain": [127.7605, 133.7357], "nice": false, "zero": false}, "axis": null}
      }
    },
    {
      "data": {"values": [{"i": 168.05, "i2": 233.125, "v": 128.585}]},
      "mark": {"type": "rule", "color": "#f8a8c6", "strokeWidth": 4, "clip": true},
      "encoding": {
        "x": {"field": "i", "type": "quantitative", "scale": {"domain": [0.125, 233.125], "nice": false, "zero": false}, "axis": null},
        "x2": {"field": "i2"},
        "y": {"field": "v", "type": "quantitative", "scale": {"domain": [127.7605, 133.7357], "nice": false, "zero": false}, "axis": null}
      }
    },
    {
      "data": {"name": "pinkarc"},
      "mark": {"type": "line", "color": "#f8a8c6", "strokeWidth": 5, "strokeCap": "round", "strokeJoin": "round", "interpolate": "monotone", "clip": true},
      "encoding": {
        "x": {"field": "i", "type": "quantitative", "scale": {"domain": [0.125, 233.125], "nice": false, "zero": false}, "axis": null},
        "y": {"field": "v", "type": "quantitative", "scale": {"domain": [127.7605, 133.7357], "nice": false, "zero": false}, "axis": null}
      }
    },
    {
      "data": {"values": [{"i": 232.6, "v": 129.65, "t": "129.62"}]},
      "mark": {"type": "text", "align": "right", "baseline": "alphabetic", "fontSize": 40, "fontWeight": "bold", "color": "#ed1c24"},
      "encoding": {
        "x": {"field": "i", "type": "quantitative", "scale": {"domain": [0.125, 233.125], "nice": false, "zero": false}, "axis": null},
        "y": {"field": "v", "type": "quantitative", "scale": {"domain": [127.7605, 133.7357], "nice": false, "zero": false}, "axis": null},
        "text": {"field": "t"}
      }
    },
    {
      "data": {"values": [{"i": 232.25, "v": 128.603, "t": "128.59"}]},
      "mark": {"type": "text", "align": "right", "baseline": "alphabetic", "fontSize": 40, "fontWeight": "bold", "color": "#f8a8c6"},
      "encoding": {
        "x": {"field": "i", "type": "quantitative", "scale": {"domain": [0.125, 233.125], "nice": false, "zero": false}, "axis": null},
        "y": {"field": "v", "type": "quantitative", "scale": {"domain": [127.7605, 133.7357], "nice": false, "zero": false}, "axis": null},
        "text": {"field": "t"}
      }
    },
    {
      "data": {"values": [{"i": 235.9, "v": 129.938}]},
      "mark": {"type": "tick", "orient": "horizontal", "size": 38, "thickness": 11, "color": "#778899", "opacity": 1, "clip": false},
      "encoding": {
        "x": {"field": "i", "type": "quantitative", "scale": {"domain": [0.125, 233.125], "nice": false, "zero": false}, "axis": null},
        "y": {"field": "v", "type": "quantitative", "scale": {"domain": [127.7605, 133.7357], "nice": false, "zero": false}, "axis": null}
      }
    },
    {
      "data": {"values": [{"i": 235.9, "v": 129.938, "t": "129.938"}]},
      "mark": {"type": "text", "align": "center", "baseline": "middle", "fontSize": 9, "color": "#ffffff", "clip": false},
      "encoding": {
        "x": {"field": "i", "type": "quantitative", "scale": {"domain": [0.125, 233.125], "nice": false, "zero": false}, "axis": null},
        "y": {"field": "v", "type": "quantitative", "scale": {"domain": [127.7605, 133.7357], "nice": false, "zero": false}, "axis": null},
        "text": {"field": "t"}
      }
    }
  ]
}
